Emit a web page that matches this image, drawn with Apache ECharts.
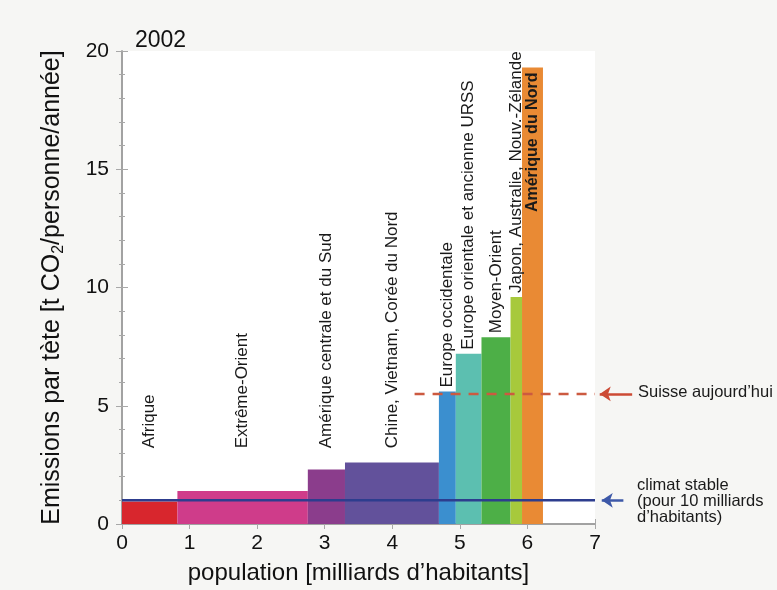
<!DOCTYPE html>
<html>
<head>
<meta charset="utf-8">
<script src="https://cdn.jsdelivr.net/npm/echarts@6/dist/echarts.min.js"></script>
<style>
html,body{margin:0;padding:0;background:#f6f6f4;}
#chart{width:777px;height:590px;}
</style>
</head>
<body>
<div id="chart"></div>
<script>
// ---- data ----
const regions = ['Afrique', 'Extrême-Orient', 'Amérique centrale et du Sud', 'Chine, Vietnam, Corée du Nord',
  'Europe occidentale', 'Europe orientale et ancienne URSS', 'Moyen-Orient',
  'Japon, Australie, Nouv.-Zélande', 'Amérique du Nord'];
const population = [0.82, 1.93, 0.55, 1.39, 0.25, 0.38, 0.43, 0.17, 0.31]; // milliards
const emissions = [0.95, 1.4, 2.3, 2.6, 5.6, 7.2, 7.9, 9.6, 19.3];        // t CO2 / personne / an
const xTicks = [0, 1, 2, 3, 4, 5, 6, 7];
const yTicks = [0, 5, 10, 15, 20];
const swissLevel = 5.5;
const swissFrom = 4.33;
const stableLevel = 1.0;
const yearLabel = '2002';

// ---- styles ----
const palette = ['#d8262d', '#cf3c8a', '#8b3d8c', '#62519b', '#3b8fcf', '#5cbfb0', '#4daf47', '#a7c93c', '#e98a34'];
const FONT = '"Liberation Sans", Arial, Helvetica, sans-serif';

const blocks = [];
let acc = 0;
population.forEach((p, i) => {
  blocks.push([acc, acc + p, emissions[i], i]);
  acc += p;
});

const chart = echarts.init(document.getElementById('chart'));

function renderItem(params, api) {
  const i = api.value(3);
  const s = api.coord([api.value(0), 0]);
  const e = api.coord([api.value(1), api.value(2)]);
  const cx = (s[0] + e[0]) / 2;
  const floorY = api.coord([0, 3.2])[1];
  const inside = api.value(2) > 15;
  let anchorY, align;
  if (inside) { anchorY = e[1] + 5; align = 'right'; }
  else { anchorY = Math.min(floorY, e[1] - 4); align = 'left'; }
  return {
    type: 'group',
    children: [
      { type: 'rect', shape: { x: s[0], y: e[1], width: e[0] - s[0], height: s[1] - e[1] },
        style: { fill: palette[i] } },
      { type: 'text', x: cx, y: anchorY, rotation: Math.PI / 2, z2: 10,
        style: { text: regions[i], fill: '#1a1a1a', align: align, verticalAlign: 'middle',
          font: inside ? ('bold 16px ' + FONT) : ('17px ' + FONT) } }
    ]
  };
}

const axisLineStyle = { color: '#9c9c9c', width: 1.5 };
const tickStyle = { color: '#a8a8a8', width: 1 };

const option = {
  backgroundColor: '#f6f6f4',
  animation: false,
  title: { text: yearLabel, left: 130, top: 24,
    textStyle: { fontFamily: FONT, fontSize: 23, fontWeight: 'normal', color: '#111' } },
  grid: { left: 122, right: 182, top: 51, bottom: 65, show: true, backgroundColor: '#ffffff', borderWidth: 0 },
  xAxis: [
    { type: 'value', min: xTicks[0], max: xTicks[xTicks.length - 1], interval: 1, position: 'bottom',
      axisLine: { show: true, lineStyle: axisLineStyle },
      axisTick: { show: true, inside: true, length: 5, lineStyle: tickStyle },
      axisLabel: { fontFamily: FONT, fontSize: 21, color: '#111', margin: 9 },
      splitLine: { show: false },
      name: 'population [milliards d\u2019habitants]', nameLocation: 'middle', nameGap: 37,
      nameTextStyle: { fontFamily: FONT, fontSize: 24, color: '#111' } },
    { type: 'value', min: xTicks[0], max: xTicks[xTicks.length - 1], interval: 1, position: 'top',
      axisLine: { show: true, lineStyle: axisLineStyle },
      axisTick: { show: true, inside: true, length: 5, lineStyle: tickStyle },
      axisLabel: { show: false }, splitLine: { show: false } }
  ],
  yAxis: [
    { type: 'value', min: yTicks[0], max: yTicks[yTicks.length - 1], interval: 5, position: 'left',
      axisLine: { show: true, lineStyle: axisLineStyle },
      axisTick: { show: true, inside: true, length: 6, lineStyle: tickStyle },
      minorTick: { show: true, splitNumber: 5, length: 3, lineStyle: tickStyle },
      axisLabel: { fontFamily: FONT, fontSize: 21, color: '#111', margin: 13 },
      splitLine: { show: false },
      name: '{a|Emissions par tète [t CO}{b|2}{a|/personne/année]}',
      nameLocation: 'middle', nameGap: 55,
      nameTextStyle: { rich: {
        a: { fontFamily: FONT, fontSize: 25, color: '#111', lineHeight: 30 },
        b: { fontFamily: FONT, fontSize: 16, color: '#111', lineHeight: 15, verticalAlign: 'bottom' }
      } } },
    { type: 'value', min: yTicks[0], max: yTicks[yTicks.length - 1], interval: 5, position: 'right',
      axisLine: { show: true, lineStyle: axisLineStyle },
      axisTick: { show: true, inside: true, length: 6, lineStyle: tickStyle },
      minorTick: { show: true, splitNumber: 5, length: 3, lineStyle: tickStyle },
      axisLabel: { show: false }, splitLine: { show: false } }
  ],
  series: [
    { type: 'custom', renderItem: renderItem, data: blocks, z: 2,
      encode: { x: [0, 1], y: 2 } },
    { type: 'line', data: [[swissFrom, swissLevel], [xTicks[xTicks.length - 1], swissLevel]],
      symbol: 'none', z: 5, lineStyle: { color: '#cc5a40', width: 2.5, type: [10, 8] } },
    { type: 'line', data: [[xTicks[0], stableLevel], [xTicks[xTicks.length - 1], stableLevel]],
      symbol: 'none', z: 5, lineStyle: { color: '#2d3d8e', width: 2.5 } },
    { type: 'lines', coordinateSystem: 'cartesian2d', clip: false, z: 5,
      symbol: ['none', 'arrow'], symbolSize: 11,
      data: [
        { coords: [[7.55, swissLevel], [7.07, swissLevel]], lineStyle: { color: '#cc4a35', width: 2.5, opacity: 1 } },
        { coords: [[7.42, stableLevel], [7.10, stableLevel]], lineStyle: { color: '#3d58a8', width: 2.5, opacity: 1 } }
      ] }
  ],
  graphic: [
    { type: 'text', left: 638, top: 384,
      style: { text: 'Suisse aujourd\u2019hui', font: '16.5px ' + FONT, fill: '#1a1a1a' } },
    { type: 'text', left: 637, top: 477,
      style: { text: 'climat stable\n(pour 10 milliards\nd\u2019habitants)', font: '16.5px ' + FONT,
        fill: '#1a1a1a', lineHeight: 16 } }
  ]
};
chart.setOption(option);
</script>
</body>
</html>
